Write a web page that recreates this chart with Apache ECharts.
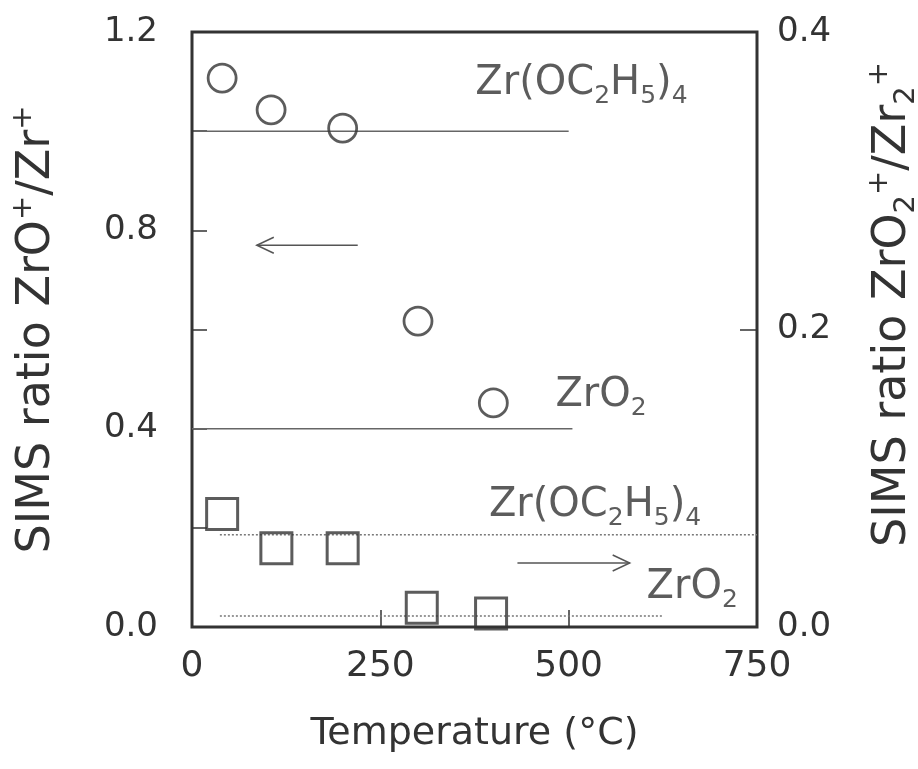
<!DOCTYPE html>
<html><head><meta charset="utf-8">
<script src="https://cdn.jsdelivr.net/npm/echarts@6/dist/echarts.min.js"></script>
<style>html,body{margin:0;padding:0;background:#fff}#c{width:918px;height:769px}</style>
</head><body><div id="c"></div>
<script>
// ---- tick labels ----
const xTickLabels = ['0', '250', '500', '750'];
const leftTickLabels = ['0.0', '0.4', '0.8', '1.2'];
const rightTickLabels = ['0.0', '0.2', '0.4'];
// ---- data: ZrO+/Zr+ (circles, left axis) ----
const circleTemps = [40, 105, 200, 300, 400];
const circleRatios = [1.107, 1.043, 1.006, 0.617, 0.452];
// ---- data: ZrO2+/Zr2+ (squares, right axis) ----
const squareTemps = [40, 112, 200, 305, 397];
const squareRatios = [0.076, 0.053, 0.053, 0.013, 0.009];
// ---- reference levels (left axis) ----
const refLeftValues = [1.0, 0.4];
const refLeftFrom = [10, 0];
const refLeftTo = [500, 505];
// ---- reference levels (right axis) ----
const refRightValues = [0.062, 0.0074];
const refRightFrom = [37, 37];
const refRightTo = [750, 625];
// ---- arrows: [xStart, xEnd, y] ----
const arrowLeft = [220, 86, 0.770];
const arrowRight = [432, 581, 0.043];
// ---- annotations ----
const annoTexts = ['{m|Zr(OC}{s|2}{m|H}{s|5}{m|)}{s|4}', '{m|ZrO}{s|2}', '{m|Zr(OC}{s|2}{m|H}{s|5}{m|)}{s|4}', '{m|ZrO}{s|2}'];
const annoX = [517, 543, 535, 664];
const annoY = [1.095, 0.466, 0.0813, 0.0262];
const annoAxis = [0, 0, 1, 1];

const FONT = 'DejaVu Sans';
const INK = '#333';

const richMain = {
  m: {fontFamily: FONT, fontSize: 40, color: INK, lineHeight: 50, verticalAlign: 'middle'},
  s: {fontFamily: FONT, fontSize: 25, color: INK, lineHeight: 25, verticalAlign: 'bottom'}
};

function fmtTick(labels) {
  return function (v) {
    const s = v.toFixed(1);
    return labels.indexOf(s) >= 0 ? s : '';
  };
}

const series = [];
// reference lines
refLeftValues.forEach((v, i) => {
  series.push({type: 'line', yAxisIndex: 0, data: [[refLeftFrom[i], v], [refLeftTo[i], v]],
    showSymbol: false, symbol: 'none', lineStyle: {color: '#666', width: 1.5}, z: 1, silent: true});
});
refRightValues.forEach((v, i) => {
  series.push({type: 'line', yAxisIndex: 1, data: [[refRightFrom[i], v], [refRightTo[i], v]],
    showSymbol: false, symbol: 'none', lineStyle: {color: '#777', width: 1.5, type: [2, 2]}, z: 1, silent: true});
});
// arrows
function arrowRender(params, api) {
  const p1 = api.coord([api.value(0), api.value(2)]);
  const p2 = api.coord([api.value(1), api.value(2)]);
  const d = p2[0] > p1[0] ? 1 : -1;
  const hl = 17, hw = 8;
  return {type: 'group', children: [
    {type: 'line', shape: {x1: p1[0], y1: p1[1], x2: p2[0], y2: p2[1]}, style: {stroke: '#555', lineWidth: 1.5}},
    {type: 'polyline', shape: {points: [[p2[0] - d * hl, p2[1] - hw], [p2[0], p2[1]], [p2[0] - d * hl, p2[1] + hw]]},
      style: {stroke: '#555', lineWidth: 1.5, fill: 'none'}}
  ]};
}
series.push({type: 'custom', yAxisIndex: 0, data: [arrowLeft], encode: {x: [0, 1], y: 2}, renderItem: arrowRender, z: 2, silent: true});
series.push({type: 'custom', yAxisIndex: 1, data: [arrowRight], encode: {x: [0, 1], y: 2}, renderItem: arrowRender, z: 2, silent: true});
// annotations
[0, 1].forEach(ax => {
  const pts = [];
  annoTexts.forEach((t, i) => { if (annoAxis[i] === ax) pts.push({value: [annoX[i], annoY[i]], txt: t}); });
  series.push({type: 'scatter', yAxisIndex: ax, data: pts, symbolSize: 1, itemStyle: {color: 'rgba(0,0,0,0)'},
    label: {show: true, position: 'inside', formatter: p => p.data.txt, rich: richMain}, z: 3, silent: true});
});
// data markers
series.push({type: 'scatter', yAxisIndex: 0, data: circleTemps.map((t, i) => [t, circleRatios[i]]),
  symbol: 'circle', symbolSize: 28, itemStyle: {color: 'rgba(0,0,0,0)', borderColor: INK, borderWidth: 2.8}, z: 5});
series.push({type: 'scatter', yAxisIndex: 1, data: squareTemps.map((t, i) => [t, squareRatios[i]]),
  symbol: 'rect', symbolSize: 31, itemStyle: {color: 'rgba(0,0,0,0)', borderColor: INK, borderWidth: 3}, z: 5});

const nameRich = {
  m: {fontFamily: FONT, fontSize: 46, color: INK, lineHeight: 56, verticalAlign: 'middle'},
  s: {fontFamily: FONT, fontSize: 29, color: INK, lineHeight: 29, verticalAlign: 'bottom'},
  p: {fontFamily: FONT, fontSize: 29, color: INK, lineHeight: 29, verticalAlign: 'top'}
};

const chart = echarts.init(document.getElementById('c'), null, {renderer: 'canvas'});
chart.setOption({
  animation: false,
  backgroundColor: '#fff',
  grid: {left: 192, right: 161, top: 32, bottom: 142, containLabel: false, outerBoundsMode: 'none',
    show: true, borderColor: INK, borderWidth: 3, backgroundColor: 'rgba(0,0,0,0)'},
  xAxis: {
    type: 'value', min: 0, max: 750, interval: 250,
    axisLine: {show: false}, splitLine: {show: false},
    axisTick: {show: true, inside: true, length: 17, lineStyle: {color: INK, width: 1.5}},
    axisLabel: {margin: 22, fontFamily: FONT, fontSize: 36, color: INK,
      formatter: v => xTickLabels[xTickLabels.indexOf(String(v))] || ''},
    name: 'Temperature (°C)', nameLocation: 'middle', nameGap: 88,
    nameTextStyle: {fontFamily: FONT, fontSize: 38, color: INK}
  },
  yAxis: [{
    type: 'value', position: 'left', min: 0, max: 1.2, interval: 0.2,
    axisLine: {show: false}, splitLine: {show: false},
    axisTick: {show: true, inside: true, length: 15, lineStyle: {color: INK, width: 1.5}},
    axisLabel: {margin: 34, fontFamily: FONT, fontSize: 34, color: INK, formatter: fmtTick(leftTickLabels)},
    name: '{m|SIMS ratio ZrO}{p|+}{m|/Zr}{p|+}', nameLocation: 'middle', nameRotate: 90, nameGap: 127,
    nameTextStyle: {rich: nameRich}
  }, {
    type: 'value', position: 'right', min: 0, max: 0.4, interval: 0.2,
    axisLine: {show: false}, splitLine: {show: false},
    axisTick: {show: true, inside: true, length: 17, lineStyle: {color: INK, width: 1.5}},
    axisLabel: {margin: 20, fontFamily: FONT, fontSize: 34, color: INK, formatter: fmtTick(rightTickLabels)},
    name: '{m|SIMS ratio ZrO}{s|2}{p|+}{m|/Zr}{s|2}{p|+}', nameLocation: 'middle', nameRotate: 90, nameGap: 108,
    nameTextStyle: {rich: nameRich, padding: [0, 0, 0, 50]}
  }],
  series: series
});
</script>
</body></html>
